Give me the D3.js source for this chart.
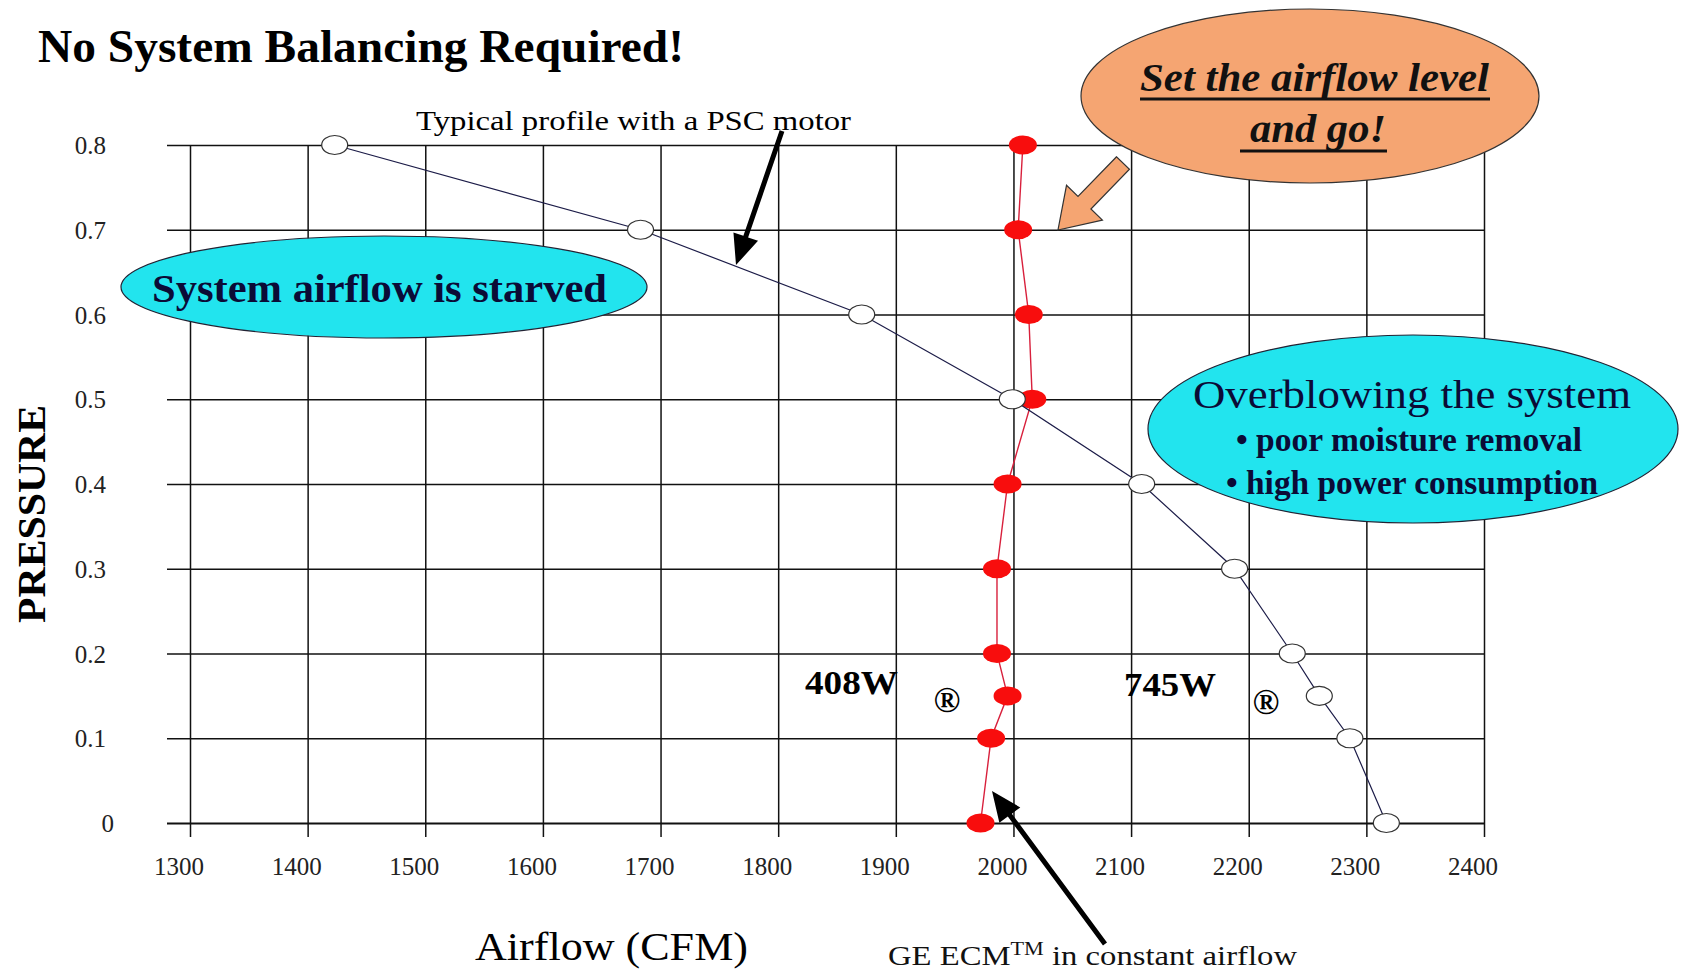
<!DOCTYPE html>
<html>
<head>
<meta charset="utf-8">
<script src="https://cdn.jsdelivr.net/npm/d3@7"></script>
<style>
  html, body { margin: 0; padding: 0; background: #ffffff; }
  svg { display: block; }
  text { font-family: 'Liberation Serif', 'Times New Roman', serif; }
</style>
</head>
<body>
<svg id="chart" width="1683" height="972"></svg>
<script>
// Static pressure (in. w.c.) at each measured point
const pressure = [0.8, 0.7, 0.6, 0.5, 0.4, 0.3, 0.2, 0.15, 0.1, 0];
// Airflow (CFM) delivered by a typical PSC motor
const pscAirflow = [1423, 1683, 1871, 1999, 2109, 2188, 2237, 2260, 2286, 2317];
// Airflow (CFM) delivered by the GE ECM in constant-airflow mode
const ecmAirflow = [2008, 2004, 2013, 2016, 1995, 1986, 1986, 1995, 1981, 1972];
// Axis ticks
const xTicks = [1300, 1400, 1500, 1600, 1700, 1800, 1900, 2000, 2100, 2200, 2300, 2400];
const yTicks = [0, 0.1, 0.2, 0.3, 0.4, 0.5, 0.6, 0.7, 0.8];
const yTickLabels = ["0", "0.1", "0.2", "0.3", "0.4", "0.5", "0.6", "0.7", "0.8"];
// Power draw labels
const powerLabels = ["408W", "745W"];

const svg = d3.select("#chart");
const serif = "'Liberation Serif', 'Times New Roman', serif";

const x = d3.scaleLinear().domain([1300, 2400]).range([190, 1484]);
const y = d3.scaleLinear().domain([0, 0.8]).range([823, 145]);

// ---- grid -------------------------------------------------------------
const gridTop = y(0.8), gridBottom = y(0);

// Horizontal grid lines + pressure labels via a left axis
const yAxis = d3.axisLeft(y)
  .tickValues(yTicks)
  .tickSize(0)
  .tickFormat((d, i) => yTickLabels[i]);
const gy = svg.append("g").attr("transform", "translate(167,0)").call(yAxis);
gy.select(".domain").remove();
gy.selectAll(".tick line")
  .attr("x1", 0).attr("x2", x(2400) - 167)
  .attr("stroke", "#111").attr("stroke-width", d => d === 0 ? 2 : 1.5);
gy.selectAll(".tick text")
  .attr("x", d => d === 0 ? -53 : -61)
  .attr("dy", "0.34em")
  .attr("font-family", serif)
  .attr("font-size", 25)
  .attr("fill", "#222")
  .attr("text-anchor", "end");

// Vertical grid lines + airflow labels via a bottom axis
const xAxis = d3.axisBottom(x)
  .tickValues(xTicks)
  .tickSize(14)
  .tickFormat(d3.format("d"));
const gx = svg.append("g").attr("transform", `translate(0,${gridBottom})`).call(xAxis);
gx.select(".domain").remove();
gx.selectAll(".tick line")
  .attr("y1", gridTop - gridBottom).attr("y2", 14)
  .attr("stroke", "#111").attr("stroke-width", 1.5);
gx.selectAll(".tick text")
  .attr("x", -11.5)
  .attr("y", 52)
  .attr("dy", 0)
  .attr("font-family", serif)
  .attr("font-size", 25)
  .attr("fill", "#222")
  .attr("text-anchor", "middle");

// ---- series -------------------------------------------------------------
const ecmData = pressure.map((p, i) => ({ p, cfm: ecmAirflow[i] }));
const pscData = pressure.map((p, i) => ({ p, cfm: pscAirflow[i] }));
const line = d3.line().x(d => x(d.cfm)).y(d => y(d.p));

// ECM constant-airflow curve
svg.append("path").datum(ecmData)
  .attr("d", line).attr("fill", "none")
  .attr("stroke", "#d8203c").attr("stroke-width", 1.4);
svg.append("g").selectAll("ellipse").data(ecmData).join("ellipse")
  .attr("cx", d => x(d.cfm)).attr("cy", d => y(d.p))
  .attr("rx", 14).attr("ry", 9.5)
  .attr("fill", "#f80d0d");

// PSC motor curve (drawn on top)
svg.append("path").datum(pscData)
  .attr("d", line).attr("fill", "none")
  .attr("stroke", "#1c1c48").attr("stroke-width", 1.2);
svg.append("g").selectAll("ellipse").data(pscData).join("ellipse")
  .attr("cx", d => x(d.cfm)).attr("cy", d => y(d.p))
  .attr("rx", 13).attr("ry", 9.5)
  .attr("fill", "#ffffff").attr("stroke", "#333").attr("stroke-width", 1.2);

// ---- helpers --------------------------------------------------------------
function arrow(x1, y1, x2, y2, width, headLen, headW, fill, stroke) {
  const dx = x2 - x1, dy = y2 - y1, len = Math.hypot(dx, dy);
  const ux = dx / len, uy = dy / len, nx = -uy, ny = ux;
  const bx = x2 - ux * headLen, by = y2 - uy * headLen;
  const w = width / 2, h = headW / 2;
  const pts = [
    [x1 + nx * w, y1 + ny * w], [bx + nx * w, by + ny * w], [bx + nx * h, by + ny * h],
    [x2, y2],
    [bx - nx * h, by - ny * h], [bx - nx * w, by - ny * w], [x1 - nx * w, y1 - ny * w]
  ];
  svg.append("polygon")
    .attr("points", pts.map(p => p.join(",")).join(" "))
    .attr("fill", fill)
    .attr("stroke", stroke || "none").attr("stroke-width", stroke ? 1.2 : 0)
    .attr("stroke-linejoin", "miter");
}

function label(txt, xPos, yPos, size, opts = {}) {
  const t = svg.append("text")
    .attr("x", xPos).attr("y", yPos)
    .attr("font-family", serif)
    .attr("font-size", size)
    .attr("font-weight", opts.weight || "normal")
    .attr("font-style", opts.style || "normal")
    .attr("fill", opts.fill || "#000")
    .attr("text-anchor", opts.anchor || "start")
    .text(txt);
  if (opts.len) t.attr("textLength", opts.len).attr("lengthAdjust", "spacingAndGlyphs");
  if (opts.transform) t.attr("transform", opts.transform);
  return t;
}

// ---- annotations ------------------------------------------------------------
// Title
label("No System Balancing Required!", 38, 62, 47, { weight: "bold", len: 646 });

// PSC callout
label("Typical profile with a PSC motor", 416, 130, 27, { len: 435 });
arrow(782, 131, 736, 265, 5, 30, 26, "#000");

// Starved-airflow bubble
svg.append("ellipse").attr("cx", 384).attr("cy", 287).attr("rx", 263).attr("ry", 51)
  .attr("fill", "#22e4ee").attr("stroke", "#223").attr("stroke-width", 1.2);
label("System airflow is starved", 152, 302, 41, { weight: "bold", fill: "#0b0b36", len: 455 });

// Orange bubble with call to action
svg.append("ellipse").attr("cx", 1310).attr("cy", 96).attr("rx", 229).attr("ry", 87)
  .attr("fill", "#f5a572").attr("stroke", "#333").attr("stroke-width", 1.2);
label("Set the airflow level", 1140, 91, 40, { weight: "bold", style: "italic", fill: "#111", len: 349 });
label("and go!", 1250, 142, 40, { weight: "bold", style: "italic", fill: "#111", len: 136 });
svg.append("line").attr("x1", 1140).attr("x2", 1490).attr("y1", 99).attr("y2", 99)
  .attr("stroke", "#111").attr("stroke-width", 3);
svg.append("line").attr("x1", 1240).attr("x2", 1387).attr("y1", 151).attr("y2", 151)
  .attr("stroke", "#111").attr("stroke-width", 3);
arrow(1123, 163, 1058, 230, 18, 38, 50, "#f5a572", "#333");

// Overblowing bubble
svg.append("ellipse").attr("cx", 1413).attr("cy", 429).attr("rx", 265).attr("ry", 94)
  .attr("fill", "#22e4ee").attr("stroke", "#223").attr("stroke-width", 1.2);
label("Overblowing the system", 1193, 408, 41, { fill: "#0b0b36", len: 438 });
label("\u2022 poor moisture removal", 1236, 451, 33, { weight: "bold", fill: "#0b0b36", len: 346 });
label("\u2022 high power consumption", 1226, 494, 33, { weight: "bold", fill: "#0b0b36", len: 372 });

// Power draw labels
label(powerLabels[0], 805, 694, 34, { weight: "bold", len: 93 });
label("\u00AE", 947, 712, 36, { weight: "bold", anchor: "middle" });
label(powerLabels[1], 1124, 696, 34, { weight: "bold", len: 92 });
label("\u00AE", 1266, 714, 36, { weight: "bold", anchor: "middle" });

// ECM callout
arrow(1105, 944, 992, 791, 5, 30, 26, "#000");
const ecm = svg.append("text")
  .attr("x", 888).attr("y", 965)
  .attr("font-family", serif).attr("font-size", 28).attr("fill", "#111");
ecm.append("tspan").text("GE ECM");
ecm.append("tspan").attr("font-size", 19).attr("dy", -10).text("TM");
ecm.append("tspan").attr("dy", 10).text(" in constant airflow");
ecm.attr("textLength", 409).attr("lengthAdjust", "spacingAndGlyphs");

// Axis titles
label("Airflow (CFM)", 475, 960, 40, { len: 273 });
label("PRESSURE", 45, 623, 41, { weight: "bold", len: 218, transform: "rotate(-90 45 623)" });
</script>
</body>
</html>
